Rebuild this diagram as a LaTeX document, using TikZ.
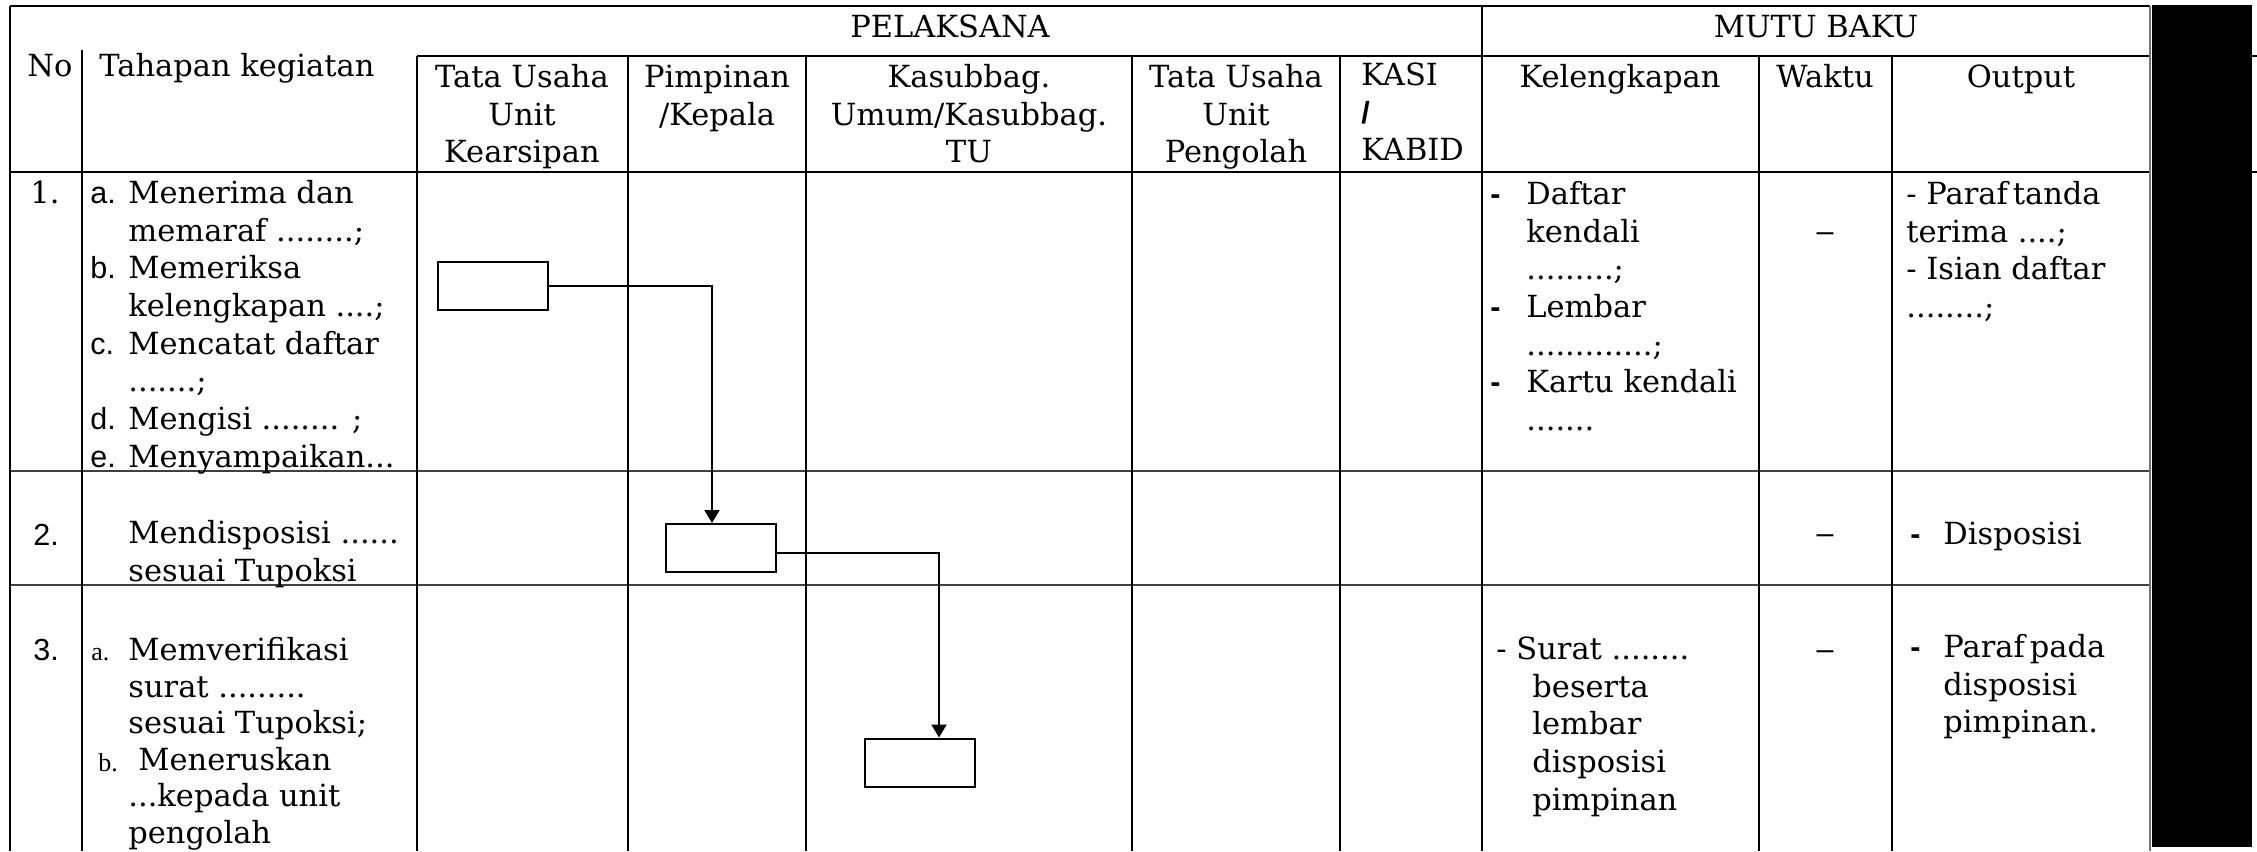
\documentclass[tikz,border=0pt]{standalone}
\usepackage{fontspec}
\setmainfont{DejaVu Serif}
\newfontfamily\lsans{Liberation Sans}
\newfontfamily\lserif{Liberation Serif}
\usetikzlibrary{arrows.meta}
\newcommand\fs{\fontsize{15.25pt}{18.85pt}\selectfont}
\newcommand\fst{\fontsize{15.25pt}{18.3pt}\selectfont}
\newcommand\tstrut{\rule{0pt}{13pt}}
\newcommand\sdash{{\lsans\bfseries -}}
\begin{document}
\begin{tikzpicture}[x=0.5pt,y=-0.5pt,
  txt/.style={font=\fs,inner sep=0pt,anchor=base west},
  ctxt/.style={font=\fs,inner sep=0pt,anchor=base},
  ml/.style={font=\fs,inner sep=0pt,align=left,anchor=north west},
  mc/.style={font=\fs,inner sep=0pt,align=center,anchor=north},
  gridline/.style={line width=1pt,black},
  rowline/.style={line width=0.6pt,black!75},
  flowbox/.style={draw,line width=1pt,minimum width=55pt,minimum height=24pt,inner sep=0pt},
  conn/.style={line width=1pt,-{Triangle[width=7.5pt,length=6.5pt]}}]
\useasboundingbox (0,0) rectangle (2257,851);
\fill[white] (0,0) rectangle (2257,851);
% ---- table grid ----
\draw[gridline,line width=1.2pt] (10,6) -- (2150,6);
\draw[gridline] (417,56) -- (2150,56);
\draw[gridline] (10,172) -- (2150,172);
\draw[rowline] (10,471) -- (2150,471);
\draw[rowline] (10,585) -- (2150,585);
\draw[gridline] (10,6) -- (10,851);
\draw[gridline] (82,50) -- (82,851);
\foreach \cx in {417,628,806,1132,1340,1759,1892} \draw[gridline] (\cx,56) -- (\cx,851);
\draw[gridline] (1482,6) -- (1482,851);
\draw[line width=1pt,black!55] (2150,6) -- (2150,851);
\fill[black] (2152,5) rectangle (2252,847);
\draw[gridline] (2252,56) -- (2257,56);
\draw[gridline] (2252,172) -- (2257,172);
% ---- header ----
\node[txt] (hNo) at (27,76) {No};
\node[txt] (hTah) at (99,76) {Tahapan kegiatan};
\node[ctxt] (hPel) at (950,37) {PELAKSANA};
\node[ctxt] (hMutu) at (1816,37) {MUTU BAKU};
\node[mc] (hTU1) at (522,61) {\tstrut Tata Usaha\\Unit\\Kearsipan};
\node[mc] (hPim) at (717,61) {\tstrut Pimpinan\\/Kepala};
\node[mc] (hKas) at (969,61) {\tstrut Kasubbag.\\Umum/Kasubbag.\\TU};
\node[mc] (hTU2) at (1236,61) {\tstrut Tata Usaha\\Unit\\Pengolah};
\node[ml] (hKasi) at (1361,59) {\tstrut KASI\\{\lsans\bfseries /}\\KABID};
\node[ctxt] (hKel) at (1620,87) {Kelengkapan};
\node[ctxt] (hWak) at (1825,87) {Waktu};
\node[ctxt] (hOut) at (2021,87) {Output};
% ---- row 1 ----
\node[txt] (r1no) at (30,203) {1.};
\node[ml,font=\fs\lsans] (r1lab) at (90,177) {\tstrut a.\\ \\b.\\ \\c.\\ \\d.\\e.};
\node[ml] (r1txt) at (128,177) {\tstrut Menerima dan\\memaraf ........;\\Memeriksa\\kelengkapan ....;\\Mencatat daftar\\.......;\\Mengisi ........ ;\\Menyampaikan...};
\node[flowbox] (b1) at (493,286) {};
\node[ml] (r1kd) at (1490,178) {\tstrut\sdash\\ \\ \\\sdash\\ \\\sdash};
\node[ml] (r1kel) at (1526,178) {\tstrut Daftar\\kendali\\.........;\\Lembar\\.............;\\Kartu kendali\\.......};
\node[ctxt] (r1wak) at (1825,241) {\lsans –};
\node[ml] (r1out) at (1906,178) {\tstrut - Paraf\,tanda\\terima ....;\\- Isian daftar\\........;};
% ---- row 2 ----
\node[txt,font=\fs\lsans] (r2no) at (33,545) {2.};
\node[ml] (r2txt) at (128,517) {\tstrut Mendisposisi ......\\sesuai Tupoksi};
\node[flowbox] (b2) at (721,548) {};
\node[ctxt] (r2wak) at (1825,543) {\lsans –};
\node[txt] (r2d) at (1910,544) {\sdash};
\node[txt] (r2out) at (1943,544) {Disposisi};
% ---- row 3 ----
\node[txt,font=\fs\lsans] (r3no) at (33,660) {3.};
\node[ml,font=\fontsize{13pt}{18.5pt}\selectfont\lserif] (r3lab) at (91,634) {\tstrut a.\\ \\ \\\hspace*{3.5pt}b.};
\node[ml,font=\fst] (r3txt) at (128,634) {\tstrut Memverifikasi\\surat .........\\sesuai Tupoksi;\\\hspace*{5pt}Meneruskan\\...kepada unit\\pengolah};
\node[flowbox] (b3) at (920,762.5) {};
\node[ml] (r3kel) at (1496,633) {\tstrut - Surat ........\\\hspace*{18pt}beserta\\\hspace*{18pt}lembar\\\hspace*{18pt}disposisi\\\hspace*{18pt}pimpinan};
\node[ctxt] (r3wak) at (1825,659) {\lsans –};
\node[txt] (r3d) at (1910,657) {\sdash};
\node[ml] (r3out) at (1943,631) {\tstrut Paraf\,pada\\disposisi\\pimpinan.};
% ---- connectors ----
\draw[conn] (b1.east) -| ([xshift=-4.5pt]b2.north);
\draw[conn] ([yshift=-2.5pt]b2.east) -| ([xshift=9.5pt]b3.north);
\end{tikzpicture}
\end{document}
